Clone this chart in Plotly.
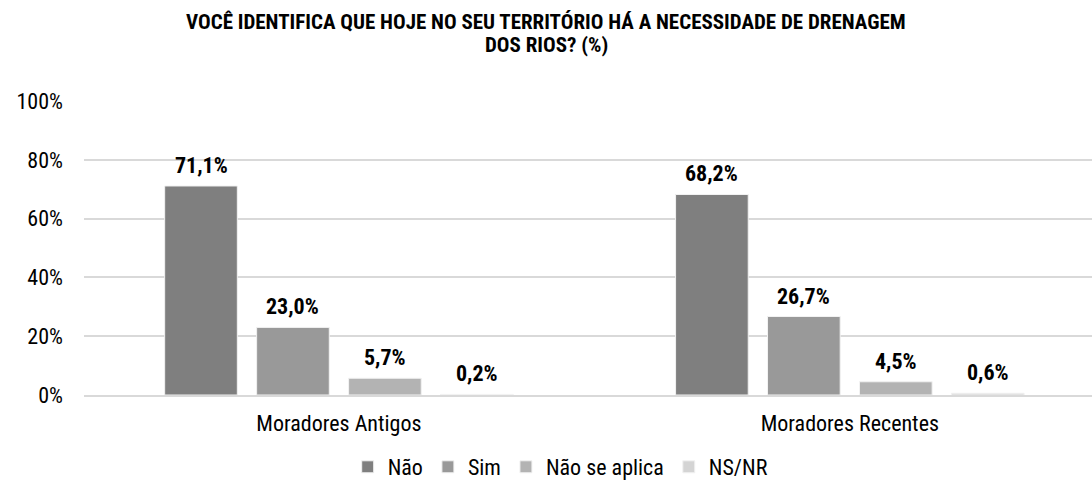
import plotly.graph_objects as go

categories = ["Moradores Antigos", "Moradores Recentes"]
series_names = ["Não", "Sim", "Não se aplica", "NS/NR"]
nao = [71.1, 68.2]
sim = [23.0, 26.7]
nao_se_aplica = [5.7, 4.5]
ns_nr = [0.2, 0.6]
y_ticks = [0, 20, 40, 60, 80, 100]
y_tick_labels = ["0%", "20%", "40%", "60%", "80%", "100%"]
title_lines = ["VOCÊ IDENTIFICA QUE HOJE NO SEU TERRITÓRIO HÁ A NECESSIDADE DE DRENAGEM",
               "DOS RIOS? (%)"]

series_values = [nao, sim, nao_se_aplica, ns_nr]
colors = ["#7f7f7f", "#999999", "#b3b3b3", "#d4d4d4"]

FONT = "Roboto Condensed, Liberation Sans Narrow, Arial Narrow, sans-serif"
W, H = 1092, 486
ML, MR, MT, MB = 84, 0, 101, 91
plot_h = H - MT - MB

fig = go.Figure()
for name, vals, col in zip(series_names, series_values, colors):
    fig.add_trace(go.Bar(
        name=name, x=list(range(len(categories))), y=vals,
        marker=dict(color=col, line=dict(color="#f2f2f2", width=1)),
    ))

bargap = 0.28
slot = (1 - bargap) / len(series_names)
for i, vals in enumerate(series_values):
    off = (i - (len(series_names) - 1) / 2) * slot
    for c, v in enumerate(vals):
        fig.add_annotation(
            x=c + off, y=v, xref="x", yref="y",
            text=f"<b>{v:.1f}%</b>".replace(".", ","),
            showarrow=False, yanchor="bottom", yshift=6,
            font=dict(family=FONT, size=22, color="#000000"),
        )

title_x = (W / 2 - ML) / (W - ML - MR)
for line, ypix in zip(title_lines, [22, 45]):
    fig.add_annotation(
        x=title_x, xref="paper", xanchor="center",
        y=1 + (MT - ypix) / plot_h, yref="paper", yanchor="middle",
        text=f"<b>{line}</b>", showarrow=False,
        font=dict(family=FONT, size=21, color="#000000"),
    )

fig.update_layout(
    width=W, height=H,
    paper_bgcolor="white", plot_bgcolor="white",
    margin=dict(l=ML, r=MR, t=MT, b=MB, autoexpand=False),
    barmode="group", bargap=bargap, bargroupgap=0.21,
    font=dict(family=FONT, size=22, color="#000000"),
    xaxis=dict(
        tickmode="array", tickvals=list(range(len(categories))), ticktext=categories,
        range=[-0.499, 1.474], showgrid=False, showline=True,
        linecolor="#d9d9d9", linewidth=2, ticks="", ticklabelstandoff=8,
        automargin=False,
        tickfont=dict(family=FONT, size=22, color="#000000"),
    ),
    yaxis=dict(
        range=[0, 100], tickvals=y_ticks, ticktext=y_tick_labels,
        showgrid=True, gridcolor="#d9d9d9", gridwidth=1.5,
        zeroline=False, showline=False, ticks="", ticklabelstandoff=20,
        automargin=False,
        tickfont=dict(family=FONT, size=22, color="#000000"),
    ),
    legend=dict(
        orientation="h", xref="container", x=0.513, xanchor="center",
        yref="container", y=1 - 467 / H, yanchor="middle",
        font=dict(family=FONT, size=22, color="#000000"),
        itemwidth=30, tracegroupgap=0,
    ),
)

fig.write_html("out.html", config={"displayModeBar": False},
               post_script="document.body.style.margin='0';")
